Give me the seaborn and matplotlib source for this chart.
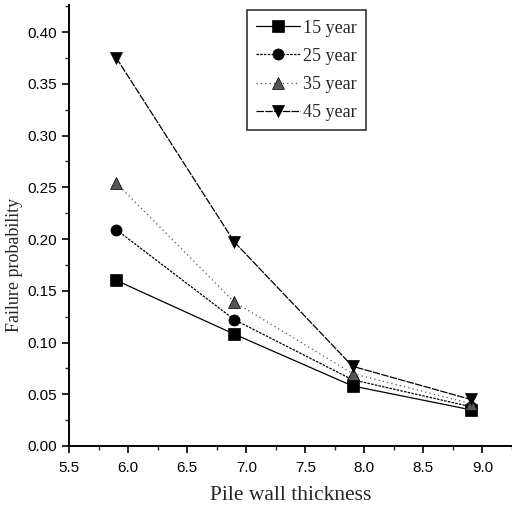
import matplotlib
matplotlib.use("Agg")
import matplotlib.pyplot as plt
from matplotlib.ticker import MultipleLocator
import seaborn as sns
import pandas as pd

thickness = [5.9, 6.9, 7.9, 8.9]
series_names = ["15 year", "25 year", "35 year", "45 year"]
p15 = [0.160, 0.108, 0.058, 0.035]
p25 = [0.209, 0.122, 0.064, 0.038]
p35 = [0.254, 0.139, 0.070, 0.041]
p45 = [0.375, 0.197, 0.077, 0.045]
xtick_labels = ["5.5", "6.0", "6.5", "7.0", "7.5", "8.0", "8.5", "9.0"]

rows = []
for name, vals in zip(series_names, [p15, p25, p35, p45]):
    for x, y in zip(thickness, vals):
        rows.append({"thickness": x, "prob": y, "series": name})
df = pd.DataFrame(rows)

sns.set_style("ticks")
plt.rcParams["font.family"] = ["Liberation Sans", "DejaVu Sans"]

fig = plt.figure(figsize=(5.12, 5.19), dpi=100)
ax = fig.add_axes([0.135, 0.1407, 0.865, 0.8493])

palette = {"15 year": "black", "25 year": "black", "35 year": "#555555", "45 year": "black"}
markers = {"15 year": "s", "25 year": "o", "35 year": "^", "45 year": "v"}
dashes = {"15 year": "", "25 year": (2, 1), "35 year": (1, 2.5), "45 year": (6, 1)}

sns.lineplot(data=df, x="thickness", y="prob", hue="series", style="series",
             palette=palette, markers=markers, dashes=dashes, ax=ax,
             linewidth=0.9, markersize=8, markeredgecolor="black",
             markeredgewidth=0.5, legend=True)

ax.set_xlim(5.5, 9.25)
ax.set_ylim(0.0, 0.426)
ax.set_xticks([float(t) for t in xtick_labels])
ax.set_xticklabels(xtick_labels)
ax.xaxis.set_minor_locator(MultipleLocator(0.25))
ax.yaxis.set_major_locator(MultipleLocator(0.05))
ax.yaxis.set_minor_locator(MultipleLocator(0.025))
ax.yaxis.set_major_formatter(matplotlib.ticker.FormatStrFormatter("%.2f"))
ax.tick_params(which="major", direction="out", length=5, width=1.2, labelsize=11, colors="black")
ax.tick_params(axis="x", which="major", pad=6)
ax.tick_params(which="minor", direction="out", length=3, width=1.0)
for s in ["top", "right"]:
    ax.spines[s].set_visible(False)
for s in ["left", "bottom"]:
    ax.spines[s].set_linewidth(1.4)
    ax.spines[s].set_color("black")

ax.set_xlabel("Pile wall thickness", family=["Liberation Serif"], fontsize=15.5, labelpad=8)
ax.set_ylabel("Failure probability", family=["Liberation Serif"], fontsize=13)
ax.yaxis.set_label_coords(-0.105, 0.41)

leg = ax.legend(loc="upper left", bbox_to_anchor=(0.402, 0.988), frameon=True,
                fancybox=False, edgecolor="black", prop={"family": "Liberation Serif", "size": 13},
                handlelength=2.4, handletextpad=0.2, labelspacing=0.62, borderpad=0.5,
                borderaxespad=0.0)
leg.get_frame().set_linewidth(1.2)

fig.savefig("out.png", dpi=100)
